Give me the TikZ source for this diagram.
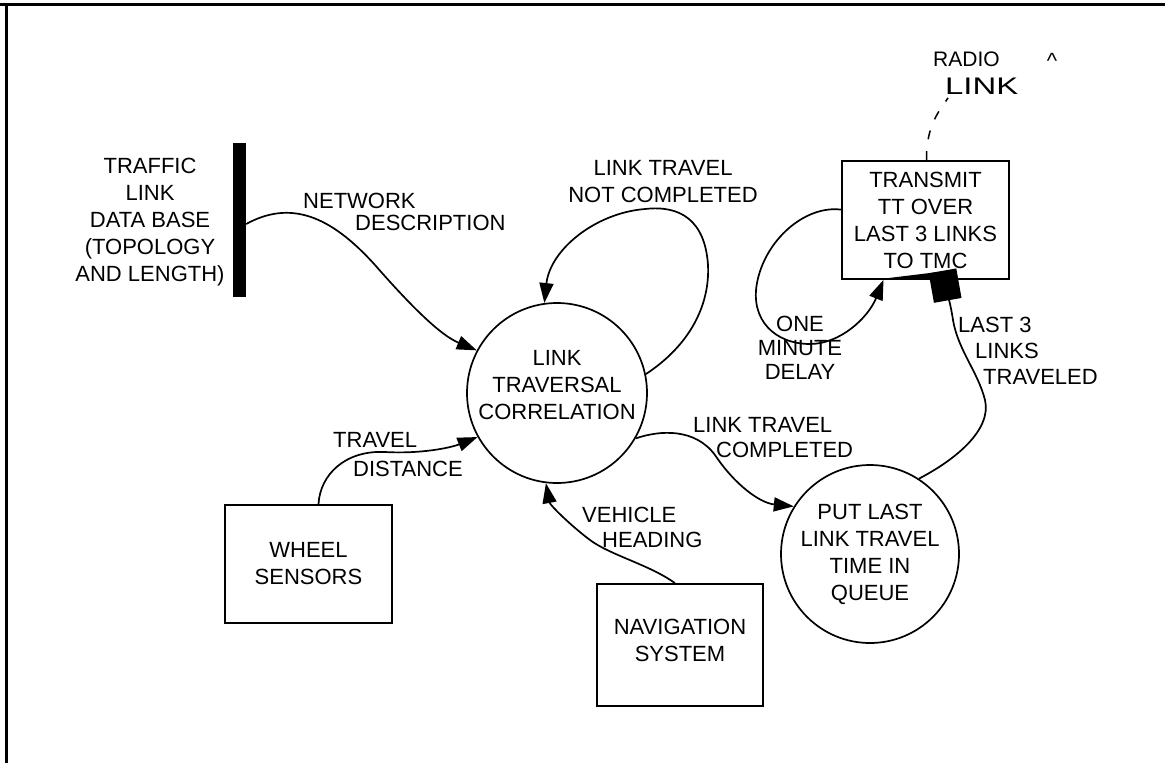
\documentclass[tikz,border=0pt]{standalone}
\usepackage{fontspec}
\setmainfont{Liberation Sans}
\usetikzlibrary{arrows.meta}

\begin{document}
\begin{tikzpicture}[x=1pt,y=-1pt,
    font=\fontsize{22}{27}\selectfont,
    flow/.style={line width=1.7pt,-{Triangle[length=20pt,width=14pt]}},
    procbox/.style={draw,line width=1.7pt,minimum width=167pt,minimum height=118pt,align=center,inner sep=0pt},
    proc/.style={draw,circle,line width=1.7pt,minimum size=180pt,align=center,inner sep=0pt},
    flowlabel/.style={align=left,inner sep=0pt}]
    \useasboundingbox (0,0) rectangle (1165,763);

    % Rahmen
    \draw[line width=3.5pt] (0,4.5) -- (1165,4.5);
    \draw[line width=3.5pt] (6.5,4.5) -- (6.5,763);

    % Datenspeicher
    \node[fill=black,minimum width=13pt,minimum height=154pt,inner sep=0pt] (db) at (239.5,220) {};
    \node[align=center,inner sep=0pt,anchor=north] (dblabel) at (150,158) {TRAFFIC\\LINK\\DATA BASE\\(TOPOLOGY\\AND LENGTH)};

    % Prozesse und Quellen
    \node[proc,text depth=16pt] (ltc) at (557,393) {LINK\\TRAVERSAL\\CORRELATION};
    \node[proc,minimum size=178pt] (queue) at (870,554) {PUT LAST\\LINK TRAVEL\\TIME IN\\QUEUE};
    \node[procbox] (tmc) at (925.5,220) {TRANSMIT\\TT OVER\\LAST 3 LINKS\\TO TMC};
    \node[procbox] (wheel) at (308.5,564) {WHEEL\\SENSORS};
    \node[procbox,minimum width=166pt,minimum height=122pt,text depth=10pt] (nav) at (680,645) {NAVIGATION\\SYSTEM};

    % Netzbeschreibung
    \draw[flow] ([yshift=-4pt]db.east) .. controls (290,200) and (330,215) .. (375,265) .. controls (410,305) and (440,335) .. (ltc.152);
    \node[flowlabel,anchor=north west] (netlbl) at (303,193) {NETWORK\\[-5pt]\hspace*{52pt}DESCRIPTION};

    % Schleife
    \draw[flow] (ltc.12) .. controls (690,345) and (710,305) .. (708,265) .. controls (705,220) and (680,205) .. (645,209) .. controls (595,213) and (550,250) .. (ltc.98);
    \node[align=center,inner sep=0pt,anchor=north] (notlbl) at (663,160) {LINK TRAVEL\\NOT COMPLETED};

    % Wegstrecke
    \draw[flow] ([xshift=10pt]wheel.north) .. controls (320,475) and (345,450) .. (385,452) .. controls (420,454) and (450,448) .. (ltc.209);
    \node[flowlabel,anchor=north west] (distlbl) at (333,432) {TRAVEL\\[2pt]\hspace*{20pt}DISTANCE};

    % Fahrtrichtung
    \draw[flow] ([xshift=-5pt]nav.north) .. controls (650,565) and (610,555) .. (590,540) .. controls (570,525) and (550,505) .. (ltc.263);
    \node[flowlabel,anchor=north west] (headlbl) at (582,507) {VEHICLE\\[-2pt]\hspace*{20pt}HEADING};

    % Strecke abgeschlossen
    \draw[flow] (ltc.-30) .. controls (660,430) and (695,428) .. (715,455) .. controls (735,485) and (760,503) .. (queue.148);
    \node[flowlabel,anchor=north west] (donelbl) at (693,417) {LINK TRAVEL\\[-2pt]\hspace*{23pt}COMPLETED};

    % Verzoegerung
    \draw[flow] (tmc.173) .. controls (805,205) and (765,240) .. (757,283) .. controls (750,320) and (775,344) .. (810,344) .. controls (840,344) and (868,318) .. ([xshift=-42pt]tmc.south);
    \node[align=center,inner sep=0pt,anchor=north] (delaylbl) at (800,316) {ONE\\[-3pt]MINUTE\\[-3pt]DELAY};

    % Letzte drei Strecken
    \draw[line width=1.7pt,-{Rectangle[length=30pt,width=28pt]}] (queue.57) .. controls (955,460) and (992,430) .. (985,400) .. controls (978,372) and (958,350) .. (953,320) .. controls (950,300) and (945,285) .. ([xshift=17pt,yshift=9pt]tmc.south);
    \fill ([xshift=-52pt]tmc.south) -- ([xshift=22pt,yshift=9pt]tmc.south) -- ([xshift=22pt]tmc.south) -- cycle;
    \node[flowlabel,anchor=north west] (lastlbl) at (958,317) {LAST 3\\[-1pt]\hspace*{17pt}LINKS\\[-1pt]\hspace*{25pt}TRAVELED};

    % Funkverbindung
    \node[inner sep=0pt,anchor=north west,font=\fontsize{21}{25}\selectfont] (radiolbl) at (933,52) {RADIO};
    \node[inner sep=0pt,anchor=north west,font=\fontsize{24}{28}\selectfont] (linklbl) at (945,78) {\scalebox{1.37}[1]{LINK}};
    \node[inner sep=0pt,anchor=north] (caret) at (1052,53) {\textasciicircum};
    \draw[line width=1.5pt,dash pattern=on 9pt off 12pt] ([xshift=1pt]tmc.north) .. controls (926,125) and (940,110) .. ([xshift=3pt,yshift=-3pt]linklbl.south west);

\end{tikzpicture}
\end{document}
